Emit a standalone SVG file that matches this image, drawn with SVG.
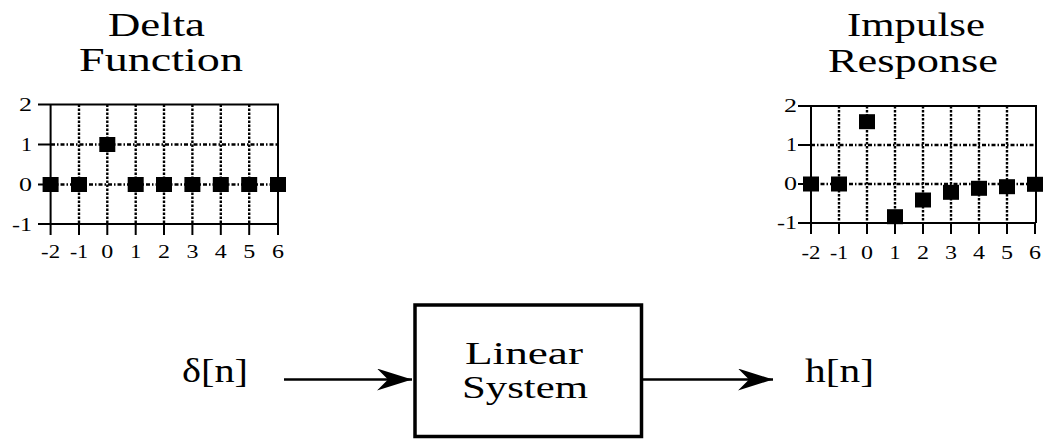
<svg xmlns="http://www.w3.org/2000/svg" width="1044" height="440" viewBox="0 0 1044 440">
<style>
text{font-family:"Liberation Serif","Times New Roman",serif;fill:#000}
.title{font-size:34px}
.sys{font-size:31px}
.big{font-size:34px}
.lab{font-size:19px}
.ylab{text-anchor:end}
.xlab{text-anchor:middle}
.axis{stroke:#000;stroke-width:2;fill:none}
.gh{stroke:#000;stroke-width:2.4;stroke-dasharray:4 2 1.5 2;fill:none}
.gv{stroke:#000;stroke-width:2.4;stroke-dasharray:2.5 1.5;fill:none}
.pt{fill:#000}
.conn{stroke:#000;stroke-width:2.5;fill:none}
.box{stroke:#000;stroke-width:3.5;fill:#fff}
</style>
<defs>
<marker id="head" viewBox="0 0 35 22" refX="35" refY="11" markerWidth="35" markerHeight="22" markerUnits="userSpaceOnUse" orient="auto">
<path d="M0,0 L35,11 L0,22 L11,11 Z" fill="#000"/>
</marker>
</defs>

<g id="delta-plot">
<text class="title" x="108" y="36" textLength="97" lengthAdjust="spacingAndGlyphs">Delta</text>
<text class="title" x="79" y="71" textLength="164" lengthAdjust="spacingAndGlyphs">Function</text>
<g>
<path class="gh" d="M51,144.5 H278 M51,184.5 H278"/>
<path class="gv" d="M79,104.5 V224 M107.3,104.5 V224 M135.7,104.5 V224 M164,104.5 V224 M192.4,104.5 V224 M220.8,104.5 V224 M249.2,104.5 V224"/>
</g>
<path class="axis" d="M38,104.5 H278 V224 M38,224 H278 M50.6,104.5 V235 M38,144.5 H50.6 M38,184.5 H50.6 M79,224 V235 M107.3,224 V235 M135.7,224 V235 M164,224 V235 M192.4,224 V235 M220.8,224 V235 M249.2,224 V235 M278,224 V235"/>
<g class="lab ylab">
<text x="32" y="111" textLength="13" lengthAdjust="spacingAndGlyphs">2</text>
<text x="32" y="151" textLength="11" lengthAdjust="spacingAndGlyphs">1</text>
<text x="32" y="191" textLength="13" lengthAdjust="spacingAndGlyphs">0</text>
<text x="32" y="231" textLength="20" lengthAdjust="spacingAndGlyphs">-1</text>
</g>
<g class="lab xlab">
<text x="50.6" y="258" textLength="19" lengthAdjust="spacingAndGlyphs">-2</text>
<text x="79" y="258" textLength="18" lengthAdjust="spacingAndGlyphs">-1</text>
<text x="107.3" y="258" textLength="12" lengthAdjust="spacingAndGlyphs">0</text>
<text x="135.7" y="258" textLength="11" lengthAdjust="spacingAndGlyphs">1</text>
<text x="164" y="258" textLength="12" lengthAdjust="spacingAndGlyphs">2</text>
<text x="192.4" y="258" textLength="12" lengthAdjust="spacingAndGlyphs">3</text>
<text x="220.8" y="258" textLength="12" lengthAdjust="spacingAndGlyphs">4</text>
<text x="249.2" y="258" textLength="12" lengthAdjust="spacingAndGlyphs">5</text>
<text x="278" y="258" textLength="12" lengthAdjust="spacingAndGlyphs">6</text>
</g>
<g class="pt">
<rect x="42.6" y="177" width="16" height="15"/>
<rect x="71" y="177" width="16" height="15"/>
<rect x="99.3" y="137" width="16" height="15"/>
<rect x="127.7" y="177" width="16" height="15"/>
<rect x="156" y="177" width="16" height="15"/>
<rect x="184.4" y="177" width="16" height="15"/>
<rect x="212.8" y="177" width="16" height="15"/>
<rect x="241.2" y="177" width="16" height="15"/>
<rect x="270" y="177" width="16" height="15"/>
</g>
</g>

<g id="impulse-plot">
<text class="title" x="847" y="36" textLength="138" lengthAdjust="spacingAndGlyphs">Impulse</text>
<text class="title" x="828" y="72" textLength="170" lengthAdjust="spacingAndGlyphs">Response</text>
<g>
<path class="gh" d="M811,145 H1035 M811,184 H1035"/>
<path class="gv" d="M839,106 V223 M867,106 V223 M895,106 V223 M923,106 V223 M951,106 V223 M979,106 V223 M1007,106 V223"/>
</g>
<path class="axis" d="M798,106 H1036 V223 M798,223 H1036 M811,106 V234 M798,145 H811 M798,184 H811 M839,223 V234 M867,223 V234 M895,223 V234 M923,223 V234 M951,223 V234 M979,223 V234 M1007,223 V234 M1035,223 V234"/>
<g class="lab ylab">
<text x="797" y="112" textLength="13" lengthAdjust="spacingAndGlyphs">2</text>
<text x="797" y="151" textLength="11" lengthAdjust="spacingAndGlyphs">1</text>
<text x="797" y="190" textLength="13" lengthAdjust="spacingAndGlyphs">0</text>
<text x="797" y="229" textLength="20" lengthAdjust="spacingAndGlyphs">-1</text>
</g>
<g class="lab xlab">
<text x="811" y="259" textLength="19" lengthAdjust="spacingAndGlyphs">-2</text>
<text x="839" y="259" textLength="18" lengthAdjust="spacingAndGlyphs">-1</text>
<text x="867" y="259" textLength="12" lengthAdjust="spacingAndGlyphs">0</text>
<text x="895" y="259" textLength="11" lengthAdjust="spacingAndGlyphs">1</text>
<text x="923" y="259" textLength="12" lengthAdjust="spacingAndGlyphs">2</text>
<text x="951" y="259" textLength="12" lengthAdjust="spacingAndGlyphs">3</text>
<text x="979" y="259" textLength="12" lengthAdjust="spacingAndGlyphs">4</text>
<text x="1007" y="259" textLength="12" lengthAdjust="spacingAndGlyphs">5</text>
<text x="1035" y="259" textLength="12" lengthAdjust="spacingAndGlyphs">6</text>
</g>
<g class="pt">
<rect x="803" y="176.5" width="16" height="15"/>
<rect x="831" y="176.5" width="16" height="15"/>
<rect x="859" y="114.2" width="16" height="15"/>
<rect x="887" y="209.2" width="16" height="15"/>
<rect x="915" y="192.5" width="16" height="15"/>
<rect x="943" y="184.8" width="16" height="15"/>
<rect x="971" y="180.8" width="16" height="15"/>
<rect x="999" y="179.2" width="16" height="15"/>
<rect x="1027" y="176.8" width="16" height="15"/>
</g>
</g>

<g id="input">
<text class="big" x="182" y="382" textLength="66" lengthAdjust="spacingAndGlyphs">δ[n]</text>
</g>

<g id="system">
<rect class="box" x="415" y="305" width="226.5" height="131.5"/>
<text class="sys" x="465" y="364" textLength="118" lengthAdjust="spacingAndGlyphs">Linear</text>
<text class="sys" x="462" y="398" textLength="126" lengthAdjust="spacingAndGlyphs">System</text>
</g>

<g id="output">
<text class="big" x="805" y="382" textLength="69" lengthAdjust="spacingAndGlyphs">h[n]</text>
</g>

<g id="connectors">
<line class="conn" x1="284" y1="379.5" x2="412" y2="379.5" marker-end="url(#head)"/>
<line class="conn" x1="643" y1="379.5" x2="773" y2="379.5" marker-end="url(#head)"/>
</g>
</svg>
